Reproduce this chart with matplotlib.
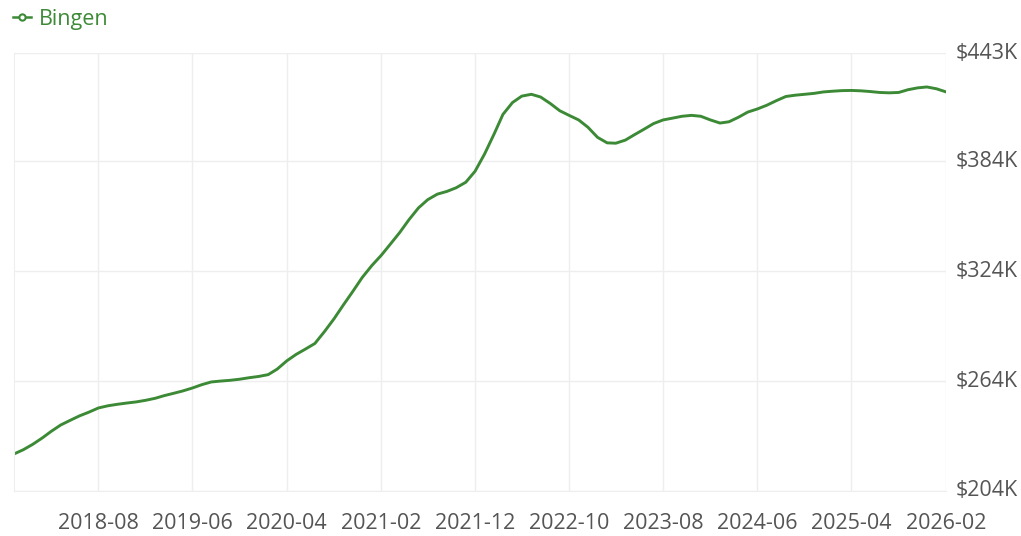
import matplotlib
matplotlib.use("Agg")
import matplotlib.pyplot as plt
import matplotlib.dates as mdates
from matplotlib.lines import Line2D
from matplotlib.ticker import FuncFormatter
import pandas as pd

# monthly values in $K, 2017-11 .. 2026-02
series_name = "Bingen"
start_month = "2017-11-01"
values = [
    224.2, 226.5, 229.5, 233.0, 236.5, 240.0, 242.5, 245.0, 247.0, 249.3,
    250.5, 251.3, 252.0, 252.6, 253.5, 254.6, 256.0, 257.3, 258.6, 260.2,
    262.0, 263.5, 264.0, 264.4, 265.0, 265.8, 266.5, 267.5, 270.5, 275.0,
    278.5, 281.5, 284.5, 291.0, 298.0, 305.5, 313.0, 320.5, 327.0, 332.7,
    338.5, 345.0, 352.0, 358.5, 363.0, 366.0, 367.5, 369.5, 372.5, 378.5,
    388.0, 399.0, 409.5, 416.0, 419.5, 420.5, 419.0, 415.5, 411.5, 409.0,
    406.5, 402.5, 397.0, 394.0, 393.8, 395.5, 398.5, 401.5, 404.5, 406.5,
    407.5, 408.5, 409.0, 408.5, 406.5, 404.8, 405.5, 408.0, 410.8, 412.5,
    414.5, 417.0, 419.3, 420.0, 420.5, 421.0, 421.8, 422.2, 422.5, 422.6,
    422.4, 422.0, 421.5, 421.3, 421.5, 423.0, 424.0, 424.5, 423.5, 421.8,
]
tick_labels = ["2018-08", "2019-06", "2020-04", "2021-02", "2021-12",
               "2022-10", "2023-08", "2024-06", "2025-04", "2026-02"]
y_ticks = [204, 264, 324, 384, 443]

green = "#3c8a36"
grey = "#555555"

dates = pd.date_range(start_month, periods=len(values), freq="MS")
tick_dates = pd.to_datetime([t + "-01" for t in tick_labels])

plt.rcParams["font.family"] = ["Open Sans", "DejaVu Sans"]

fig = plt.figure(figsize=(10.21, 5.36), dpi=100)
ax = fig.add_axes([0.0137, 0.084, 0.9129, 0.817])

ax.plot(dates, values, color=green, linewidth=2.1, solid_capstyle="round")

ax.set_xlim(dates[0], dates[-1])
ax.set_ylim(y_ticks[0], y_ticks[-1])

ax.set_xticks(tick_dates)
ax.xaxis.set_major_formatter(mdates.DateFormatter("%Y-%m"))
ax.set_yticks(y_ticks)
ax.yaxis.set_major_formatter(FuncFormatter(lambda v, p: "${:d}K".format(int(round(v)))))
ax.yaxis.tick_right()

ax.tick_params(axis="both", length=0, labelsize=15.5, labelcolor=grey)
ax.tick_params(axis="x", pad=16)
ax.tick_params(axis="y", pad=7)
for lbl in ax.get_yticklabels():
    lbl.set_verticalalignment("center")

ax.grid(True, color="#eeeeee", linewidth=1)
for side in ["top", "right"]:
    ax.spines[side].set_visible(False)
for side in ["left", "bottom"]:
    ax.spines[side].set_color("#eeeeee")

handle = Line2D([], [], color=green, linewidth=1.8, marker="o", markersize=4.5,
                markerfacecolor="white", markeredgecolor=green, markeredgewidth=1.5)
leg = fig.legend([handle], [series_name], loc="upper left", bbox_to_anchor=(0.004, 1.0),
                 frameon=False, fontsize=15.5, handlelength=0.85, handletextpad=0.35,
                 borderaxespad=0.0)
for t in leg.get_texts():
    t.set_color(green)

fig.savefig("out.png", dpi=100)
